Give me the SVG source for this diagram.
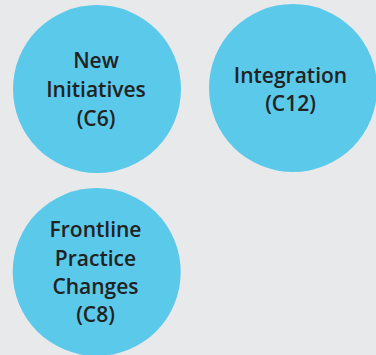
<svg xmlns="http://www.w3.org/2000/svg" width="376" height="355" viewBox="0 0 376 355">
  <style>
    .bubble { fill: #5bc9ea; }
    .label { font-family: "Open Sans", "Noto Sans", sans-serif; font-weight: 600; font-size: 21px; fill: #222222; text-anchor: middle; }
  </style>
  <rect width="376" height="355" fill="#e8e9eb"/>
  <g id="connectors"></g>
  <g id="node-new-initiatives">
    <circle class="bubble" cx="97" cy="89" r="84"/>
    <text class="label" x="96" y="68.3">New</text>
    <text class="label" x="96" y="97.3">Initiatives</text>
    <text class="label" x="96" y="126">(C6)</text>
  </g>
  <g id="node-integration">
    <circle class="bubble" cx="293" cy="88" r="84"/>
    <text class="label" x="290.5" y="82.7">Integration</text>
    <text class="label" x="290.5" y="111">(C12)</text>
  </g>
  <g id="node-frontline">
    <circle class="bubble" cx="96.7" cy="272" r="84"/>
    <text class="label" x="95.5" y="236.7">Frontline</text>
    <text class="label" x="95.5" y="265.5">Practice</text>
    <text class="label" x="95.5" y="293.5">Changes</text>
    <text class="label" x="95.5" y="321.7">(C8)</text>
  </g>
</svg>
